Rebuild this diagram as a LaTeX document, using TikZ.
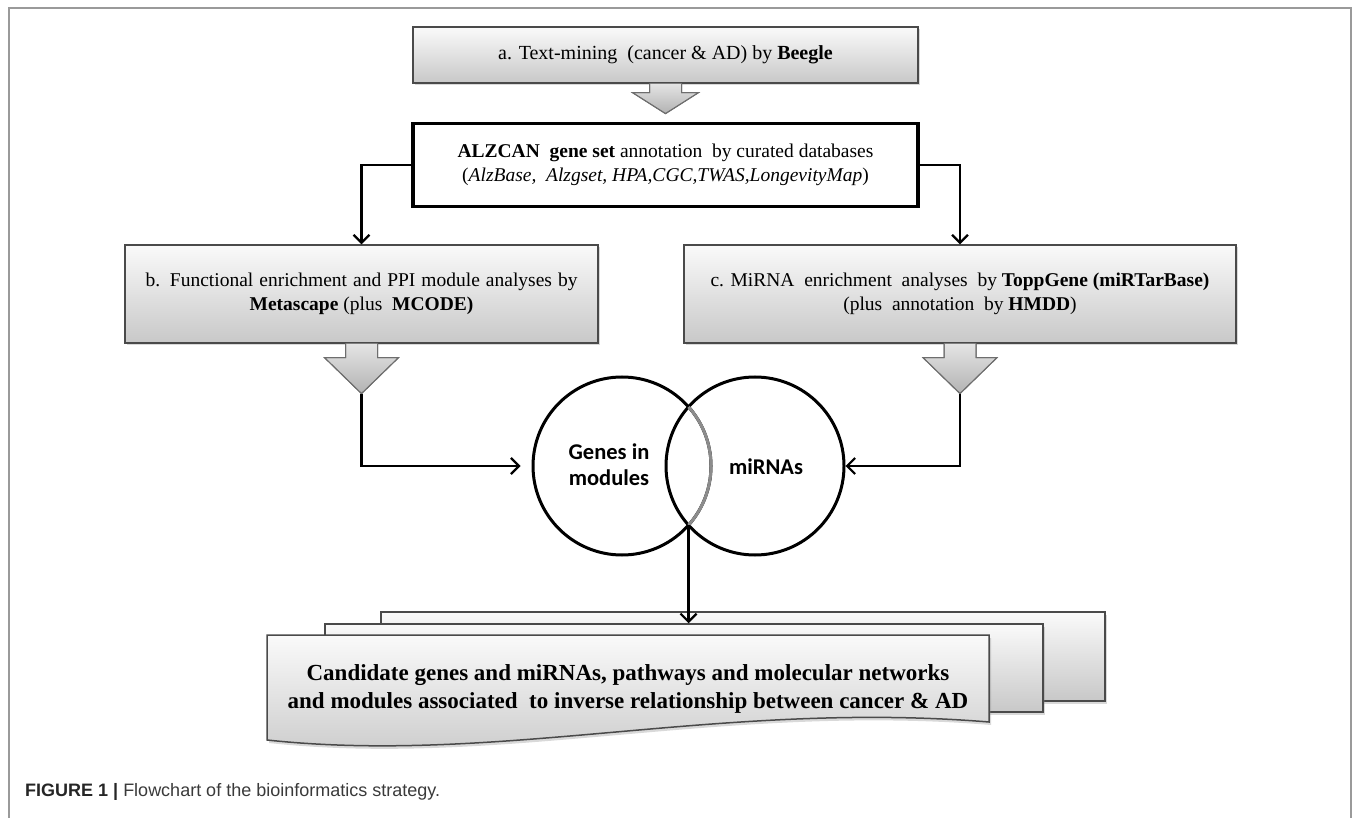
\documentclass[tikz,border=0pt]{standalone}
\usepackage{fontspec}
\setmainfont{Liberation Serif}
\newfontfamily\vennfont{Carlito}
\newfontfamily\capfont{Liberation Sans}
\usetikzlibrary{arrows.meta,calc,shadows}
\definecolor{edgegray}{HTML}{4A4A4A}
\definecolor{framegray}{HTML}{9A9A9A}
\definecolor{topgray}{HTML}{FAFAFA}
\definecolor{botgray}{HTML}{C8C8C8}
\definecolor{arrtop}{HTML}{E4E4E4}
\definecolor{arrbot}{HTML}{B2B2B2}
\definecolor{arredge}{HTML}{6E6E6E}
\definecolor{capgray}{HTML}{3A3A3A}
\definecolor{arcgray}{HTML}{8C8C8C}
\tikzset{
  gbox/.style={draw=edgegray, line width=1.3pt, top color=topgray, bottom color=botgray,
    inner sep=0pt, align=center,
    drop shadow={shadow xshift=2pt, shadow yshift=-2.5pt, opacity=0.3}},
  alzbox/.style={draw=black, line width=3.5pt, fill=white, inner sep=0pt, align=center},
  barrow/.style={draw=arredge, line width=1pt, top color=arrtop, bottom color=arrbot},
  conn/.style={line width=2.4pt, -{Straight Barb[length=8pt,width=16pt,line width=2.2pt]}},
  venn/.style={circle, draw=black, line width=3pt, minimum size=178pt, inner sep=0pt},
  docbox/.style={draw=edgegray, line width=1.5pt, top color=topgray, bottom color=botgray,
    drop shadow={shadow xshift=2pt, shadow yshift=-3pt, opacity=0.3}},
  boxfont/.style={font=\fontsize{19.5}{24}\selectfont},
}
\newcommand{\blkarrow}[5]{%
  \path[barrow] ($(#1)+(-#2,0)$) -- ++(0,#3) -- ++(#2-#4,0) -- ($(#1)+(0,#5)$)
     -- ($(#1)+(#4,#3)$) -- ++(#2-#4,0) -- ($(#1)+(#2,0)$);
  \draw[draw=arredge, line width=1pt] ($(#1)+(-#2,0)$) -- ++(0,#3) -- ++(#2-#4,0) -- ($(#1)+(0,#5)$)
     -- ($(#1)+(#4,#3)$) -- ++(#2-#4,0) -- ($(#1)+(#2,0)$);
}
\begin{document}
\begin{tikzpicture}[x=1pt,y=-1pt]
\useasboundingbox (0,0) rectangle (1355,818);
% frame
\draw[framegray, line width=1.5pt] (9,818) -- (9,8) -- (1351,8) -- (1351,818);

% boxes
\node[gbox, minimum width=505pt, minimum height=56pt, font=\fontsize{20}{24}\selectfont] (a) at (665.5,55)
  {a. Text-mining\ \ (cancer \& AD) by \textbf{Beegle}};
\node[alzbox, minimum width=505pt, minimum height=83pt, boxfont] (alz) at (665.5,165)
  {\textbf{ALZCAN}\ \ \textbf{gene set} annotation\ \ by curated databases\\
   (\textit{AlzBase,\ \ Alzgset, HPA,CGC,TWAS,LongevityMap})};
\node[gbox, minimum width=473pt, minimum height=98pt, boxfont] (b) at (361.5,294)
  {\makebox[432pt][s]{b. Functional enrichment and PPI module analyses by}\\
   \textbf{Metascape} (plus\ \ \textbf{MCODE)}};
\node[gbox, minimum width=552pt, minimum height=98pt, boxfont] (c) at (960,294)
  {c. MiRNA\ \ enrichment\ \ analyses\ \ by \textbf{ToppGene (miRTarBase)}\\
   (plus\ \ annotation\ \ by \textbf{HMDD})};

% block arrows
\blkarrow{a.south}{16}{9}{33}{30}
\blkarrow{b.south}{16}{14}{37}{50}
\blkarrow{c.south}{16}{14}{37}{50}
\coordinate (tb) at ($(b.south)+(0,50)$);
\coordinate (tc) at ($(c.south)+(0,50)$);

% connectors from ALZCAN
\draw[conn] (alz.west) -| (b.north);
\draw[conn] (alz.east) -| (c.north);

% Venn
\node[venn] (genes) at (622,466) {};
\node[venn] (mir) at (755,466) {};
\draw[arcgray, line width=3pt] (genes.center) ++(-41.6:89) arc[start angle=-41.6, end angle=41.6, radius=89];
\node[font=\vennfont\bfseries\fontsize{22.5}{26}\selectfont, align=center, inner sep=0pt] (gtext) at (609,465) {Genes in\\modules};
\node[font=\vennfont\bfseries\fontsize{22.5}{26}\selectfont, inner sep=0pt] (mtext) at (766,467) {miRNAs};
\coordinate (vx) at (688.5,525.2);

\draw[conn] (tb) |- ([xshift=-11pt]genes.west);
\draw[conn] (tc) |- (mir.east);

% stacked documents
\node[docbox, minimum width=724pt, minimum height=89pt, inner sep=0pt] (doc3) at (743,656.5) {};
\node[docbox, minimum width=718pt, minimum height=88pt, inner sep=0pt] (doc2) at (684,668) {};
\path[docbox] (267,635) -- (989,635) -- (989,722) .. controls (720,700) and (500,765) .. (267,740) -- cycle;
\node[font=\bfseries\fontsize{23}{28}\selectfont, align=center, inner sep=0pt] (doctext) at (628,689)
  {Candidate genes and miRNAs, pathways and molecular networks\\
   and modules associated\ \ to inverse relationship between cancer \& AD};

\draw[conn] (vx) -- (vx |- doc2.north);

% caption
\node[anchor=base west, font=\capfont\fontsize{18}{21}\selectfont, text=capgray, inner sep=0pt] (cap) at (25,796)
  {\textcolor{black!85}{\textbf{FIGURE 1 |}} Flowchart of the bioinformatics strategy.};
\end{tikzpicture}
\end{document}
